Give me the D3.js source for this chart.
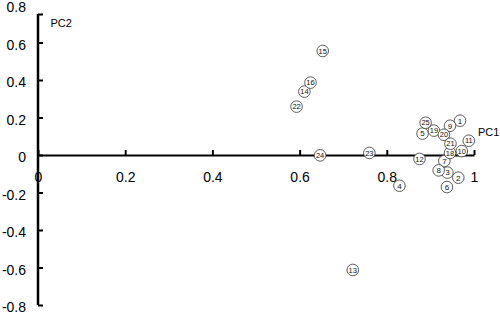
<!DOCTYPE html>
<html><head><meta charset="utf-8">
<script src="https://cdn.jsdelivr.net/npm/d3@7"></script>
<style>body{margin:0;background:#fff}svg{display:block}</style>
</head><body>
<svg id="c" width="500" height="314"></svg>
<script>
const ids = ["1","2","3","4","5","6","7","8","9","10","11","12","13","14","15","16","18","19","20","21","22","23","24","25"];
const pc1 = [0.968,0.964,0.939,0.829,0.882,0.938,0.932,0.919,0.945,0.972,0.988,0.875,0.722,0.611,0.653,0.625,0.945,0.908,0.931,0.946,0.593,0.760,0.647,0.889];
const pc2 = [0.183,-0.121,-0.094,-0.164,0.114,-0.171,-0.032,-0.082,0.156,0.021,0.076,-0.021,-0.613,0.338,0.555,0.386,0.011,0.130,0.108,0.060,0.258,0.011,-0.002,0.172];
const xTicks = [0,0.2,0.4,0.6,0.8,1];
const xTickLabels = ["0","0.2","0.4","0.6","0.8","1"];
const yTicks = [0.8,0.6,0.4,0.2,0,-0.2,-0.4,-0.6,-0.8];
const yTickLabels = ["0.8","0.6","0.4","0.2","0","-0.2","-0.4","-0.6","-0.8"];

const svg = d3.select("#c");
const x = d3.scaleLinear().domain([0,1]).range([38,474]);
const y = d3.scaleLinear().domain([-0.8,0.8]).range([305,5]);
const font = "'Liberation Sans', Arial, sans-serif";

// x axis
const xa = svg.append("g").attr("transform",`translate(0,${y(0)})`)
  .call(d3.axisBottom(x).tickValues(xTicks).tickFormat((d,i)=>xTickLabels[i]).tickSize(-5).tickSizeOuter(0).tickPadding(17));
xa.select(".domain").attr("stroke","#000").attr("stroke-width",2);
xa.selectAll(".tick line").attr("stroke","#000").attr("stroke-width",2);
xa.selectAll("text").attr("font-family",font).attr("font-size",14).attr("fill","#000");

// y axis
const ya = svg.append("g").attr("transform",`translate(${x(0)},0)`)
  .call(d3.axisLeft(y).tickValues(yTicks).tickFormat((d,i)=>yTickLabels[i]).tickSize(-5).tickSizeOuter(0).tickPadding(12));
ya.select(".domain").attr("d",`M0,14V${y(-0.8)}`).attr("stroke","#000").attr("stroke-width",2.5);
ya.selectAll(".tick line").attr("stroke","#000").attr("stroke-width",2);
ya.selectAll(".tick").filter(d=>d===0.8).select("line").attr("transform",`translate(0,${14-y(0.8)})`);
ya.selectAll("text").attr("font-family",font).attr("font-size",14).attr("fill","#000").attr("dy","0.48em");

svg.append("text").attr("x",50.5).attr("y",27).attr("font-family",font).attr("font-size",11).text("PC2");
svg.append("text").attr("x",478).attr("y",136).attr("font-family",font).attr("font-size",11).text("PC1");

const pts = svg.append("g").selectAll("g").data(ids).join("g")
  .attr("transform",(d,i)=>`translate(${x(pc1[i])},${y(pc2[i])})`);
pts.append("circle").attr("r",5.8).attr("fill","#fff").attr("stroke","#333").attr("stroke-width",0.8);
pts.append("text").attr("text-anchor","middle").attr("dy","0.35em")
  .attr("font-family",font).attr("font-size",d=>d.length>1?7.5:8).attr("fill","#111").text(d=>d);
</script>
</body></html>
